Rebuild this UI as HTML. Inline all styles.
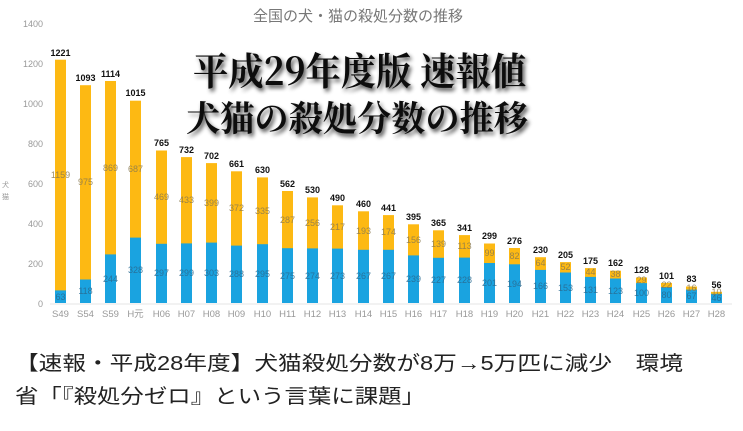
<!DOCTYPE html>
<html><head><meta charset="utf-8"><style>
html,body{margin:0;padding:0;background:#fff;}
svg{display:block;}
.t{font-family:"Liberation Sans","Noto Sans CJK JP",sans-serif;}
</style></head><body>
<svg width="743" height="431" viewBox="0 0 743 431" xmlns="http://www.w3.org/2000/svg">
<defs>
<filter id="sh" x="-10%" y="-20%" width="120%" height="150%"><feGaussianBlur in="SourceAlpha" stdDeviation="2"/><feOffset dx="2" dy="3"/><feComponentTransfer><feFuncA type="linear" slope="0.7"/></feComponentTransfer><feMerge><feMergeNode/><feMergeNode in="SourceGraphic"/></feMerge></filter>
</defs>
<rect width="743" height="431" fill="#fff"/>
<text class="t" x="358" y="21" font-size="15" fill="#777" text-anchor="middle">全国の犬・猫の殺処分数の推移</text>
<g class="t" font-size="9" fill="#999" text-anchor="end">
<text x="43" y="27">1400</text><text x="43" y="67">1200</text><text x="43" y="107">1000</text>
<text x="43" y="147">800</text><text x="43" y="187">600</text><text x="43" y="227">400</text>
<text x="43" y="267">200</text><text x="43" y="307">0</text>
</g>
<text class="t" x="2" y="187" font-size="7" fill="#999">犬</text>
<text class="t" x="2" y="199" font-size="7" fill="#999">猫</text>
<line x1="50" y1="304" x2="732" y2="304" stroke="#e4e4e4" stroke-width="1"/>
<g fill="#FDB913">
<rect x="55" y="59.7" width="11" height="243.3"/><rect x="80" y="85.2" width="11" height="217.8"/><rect x="105" y="81" width="11" height="222"/><rect x="130" y="100.7" width="11" height="202.3"/><rect x="156" y="150.5" width="11" height="152.5"/><rect x="181" y="157.1" width="11" height="145.9"/><rect x="206" y="163.1" width="11" height="139.9"/><rect x="231" y="171.3" width="11" height="131.7"/><rect x="257" y="177.4" width="11" height="125.6"/><rect x="282" y="191" width="11" height="112"/><rect x="307" y="197.4" width="11" height="105.6"/><rect x="332" y="205.3" width="11" height="97.7"/><rect x="358" y="211.3" width="11" height="91.7"/><rect x="383" y="215.1" width="11" height="87.9"/><rect x="408" y="224.3" width="11" height="78.7"/><rect x="433" y="230.3" width="11" height="72.7"/><rect x="459" y="235.1" width="11" height="67.9"/><rect x="484" y="243.5" width="11" height="59.5"/><rect x="509" y="248" width="11" height="55"/><rect x="535" y="257.2" width="11" height="45.8"/><rect x="560" y="262.1" width="11" height="40.9"/><rect x="585" y="268.1" width="11" height="34.9"/><rect x="610" y="270.7" width="11" height="32.3"/><rect x="636" y="277.5" width="11" height="25.5"/><rect x="661" y="282.9" width="11" height="20.1"/><rect x="686" y="286.5" width="11" height="16.5"/><rect x="711" y="291.8" width="11" height="11.2"/>
</g>
<g fill="#1AA3E0">
<rect x="55" y="290.4" width="11" height="12.6"/><rect x="80" y="279.5" width="11" height="23.5"/><rect x="105" y="254.4" width="11" height="48.6"/><rect x="130" y="237.6" width="11" height="65.4"/><rect x="156" y="243.8" width="11" height="59.2"/><rect x="181" y="243.4" width="11" height="59.6"/><rect x="206" y="242.6" width="11" height="60.4"/><rect x="231" y="245.6" width="11" height="57.4"/><rect x="257" y="244.2" width="11" height="58.8"/><rect x="282" y="248.2" width="11" height="54.8"/><rect x="307" y="248.4" width="11" height="54.6"/><rect x="332" y="248.6" width="11" height="54.4"/><rect x="358" y="249.8" width="11" height="53.2"/><rect x="383" y="249.8" width="11" height="53.2"/><rect x="408" y="255.4" width="11" height="47.6"/><rect x="433" y="257.8" width="11" height="45.2"/><rect x="459" y="257.6" width="11" height="45.4"/><rect x="484" y="263" width="11" height="40"/><rect x="509" y="264.3" width="11" height="38.7"/><rect x="535" y="269.9" width="11" height="33.1"/><rect x="560" y="272.5" width="11" height="30.5"/><rect x="585" y="276.9" width="11" height="26.1"/><rect x="610" y="278.5" width="11" height="24.5"/><rect x="636" y="283.1" width="11" height="19.9"/><rect x="661" y="287.1" width="11" height="15.9"/><rect x="686" y="289.6" width="11" height="13.4"/><rect x="711" y="293.8" width="11" height="9.2"/>
</g>
<g class="t" font-size="9" font-weight="bold" fill="#111" text-anchor="middle">
<text x="60.5" y="56">1221</text><text x="85.5" y="81">1093</text><text x="110.5" y="77">1114</text><text x="135.5" y="96">1015</text><text x="161.5" y="146">765</text><text x="186.5" y="153">732</text><text x="211.5" y="159">702</text><text x="236.5" y="167">661</text><text x="262.5" y="173">630</text><text x="287.5" y="187">562</text><text x="312.5" y="193">530</text><text x="337.5" y="201">490</text><text x="363.5" y="207">460</text><text x="388.5" y="211">441</text><text x="413.5" y="220">395</text><text x="438.5" y="226">365</text><text x="464.5" y="231">341</text><text x="489.5" y="239">299</text><text x="514.5" y="244">276</text><text x="540.5" y="253">230</text><text x="565.5" y="258">205</text><text x="590.5" y="264">175</text><text x="615.5" y="266">162</text><text x="641.5" y="273">128</text><text x="666.5" y="279">101</text><text x="691.5" y="282">83</text><text x="716.5" y="288">56</text>
</g>
<g class="t" font-size="9" fill="#8a7a50" text-anchor="middle" dominant-baseline="central" opacity="0.85">
<text x="60.5" y="175">1159</text><text x="85.5" y="182">975</text><text x="110.5" y="168">869</text><text x="135.5" y="169">687</text><text x="161.5" y="197">469</text><text x="186.5" y="200">433</text><text x="211.5" y="203">399</text><text x="236.5" y="208">372</text><text x="262.5" y="211">335</text><text x="287.5" y="220">287</text><text x="312.5" y="223">256</text><text x="337.5" y="227">217</text><text x="363.5" y="231">193</text><text x="388.5" y="232">174</text><text x="413.5" y="240">156</text><text x="438.5" y="244">139</text><text x="464.5" y="246">113</text><text x="489.5" y="253">99</text><text x="514.5" y="256">82</text><text x="540.5" y="263">64</text><text x="565.5" y="267">52</text><text x="590.5" y="272">44</text><text x="615.5" y="274">38</text><text x="641.5" y="280">29</text><text x="666.5" y="285">22</text><text x="691.5" y="288">16</text><text x="716.5" y="292">10</text>
</g>
<g class="t" font-size="9" fill="#2a6a90" text-anchor="middle" dominant-baseline="central" opacity="0.85">
<text x="60.5" y="297">63</text><text x="85.5" y="291">118</text><text x="110.5" y="279">244</text><text x="135.5" y="270">328</text><text x="161.5" y="273">297</text><text x="186.5" y="273">299</text><text x="211.5" y="273">303</text><text x="236.5" y="274">288</text><text x="262.5" y="274">295</text><text x="287.5" y="276">275</text><text x="312.5" y="276">274</text><text x="337.5" y="276">273</text><text x="363.5" y="276">267</text><text x="388.5" y="276">267</text><text x="413.5" y="279">239</text><text x="438.5" y="280">227</text><text x="464.5" y="280">228</text><text x="489.5" y="283">201</text><text x="514.5" y="284">194</text><text x="540.5" y="286">166</text><text x="565.5" y="288">153</text><text x="590.5" y="290">131</text><text x="615.5" y="291">123</text><text x="641.5" y="293">100</text><text x="666.5" y="295">80</text><text x="691.5" y="296">67</text><text x="716.5" y="298">46</text>
</g>
<g class="t" font-size="9.5" fill="#999" text-anchor="middle">
<text x="60.5" y="317">S49</text><text x="85.5" y="317">S54</text><text x="110.5" y="317">S59</text><text x="135.5" y="317">H元</text><text x="161.5" y="317">H06</text><text x="186.5" y="317">H07</text><text x="211.5" y="317">H08</text><text x="236.5" y="317">H09</text><text x="262.5" y="317">H10</text><text x="287.5" y="317">H11</text><text x="312.5" y="317">H12</text><text x="337.5" y="317">H13</text><text x="363.5" y="317">H14</text><text x="388.5" y="317">H15</text><text x="413.5" y="317">H16</text><text x="438.5" y="317">H17</text><text x="464.5" y="317">H18</text><text x="489.5" y="317">H19</text><text x="514.5" y="317">H20</text><text x="540.5" y="317">H21</text><text x="565.5" y="317">H22</text><text x="590.5" y="317">H23</text><text x="615.5" y="317">H24</text><text x="641.5" y="317">H25</text><text x="666.5" y="317">H26</text><text x="691.5" y="317">H27</text><text x="716.5" y="317">H28</text>
</g>
<g font-family="'Noto Serif CJK SC','Liberation Serif',serif" font-weight="bold" fill="#111" filter="url(#sh)">
<text x="193" y="85" font-size="38" textLength="333" lengthAdjust="spacingAndGlyphs">平成29年度版 速報値</text>
<text x="186" y="131" font-size="35" textLength="342" lengthAdjust="spacingAndGlyphs">犬猫の殺処分数の推移</text>
</g>
<g font-family="'Liberation Sans','Noto Sans CJK JP',sans-serif" font-size="20" fill="#222">
<text x="15" y="370" textLength="668" lengthAdjust="spacingAndGlyphs">【速報・平成28年度】犬猫殺処分数が8万→5万匹に減少　環境</text>
<text x="15" y="403" textLength="410" lengthAdjust="spacingAndGlyphs">省「『殺処分ゼロ』という言葉に課題」</text>
</g>
</svg>
</body></html>
